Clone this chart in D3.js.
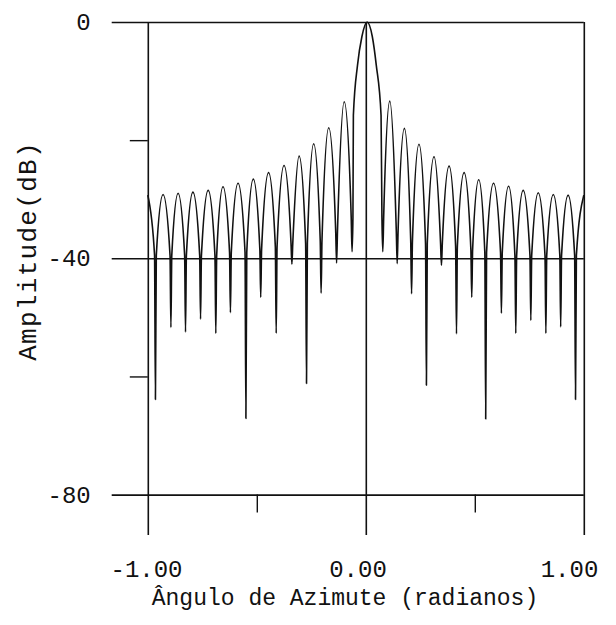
<!DOCTYPE html>
<html>
<head>
<meta charset="utf-8">
<script src="https://cdn.jsdelivr.net/npm/d3@7"></script>
<style>
  html, body { margin: 0; padding: 0; background: #fff; }
  svg { display: block; }
  text { font-family: "Liberation Mono", "DejaVu Sans Mono", monospace; fill: #111; }
</style>
</head>
<body>
<svg id="chart" width="616" height="625"></svg>
<script>
// ---- data ----
// lobe tops (sidelobe peaks, array edges and main-lobe shoulders): angle (rad) and level (dB)
const lobeAngles = [-1.000, -0.930, -0.861, -0.793, -0.723, -0.655, -0.586, -0.516, -0.446, -0.375,
  -0.306, -0.239, -0.170, -0.099,
  -0.057, -0.038, -0.018, 0.006, 0.030, 0.048, 0.070,
  0.110, 0.177, 0.244, 0.313, 0.382, 0.451, 0.518, 0.586, 0.655, 0.722, 0.791, 0.860, 0.928, 1.000];
const lobeLevels = [-29.3, -29.2, -29.0, -28.8, -28.5, -27.9, -27.3, -26.6, -25.5, -24.3,
  -22.7, -20.6, -17.9, -13.5,
  -15.8, -7.3, -2.5, 0.0, -2.5, -7.3, -15.8,
  -13.4, -18.0, -20.7, -22.8, -24.4, -25.5, -26.7, -27.3, -27.8, -28.5, -28.9, -29.2, -29.3, -29.3];
// pattern nulls: angle, depth of the spike, and level where the notch narrows to a spike
const nullAngles = [-0.965, -0.894, -0.827, -0.758, -0.688, -0.621, -0.550, -0.482, -0.411, -0.339,
  -0.272, -0.205, -0.134, -0.063,
  0.078, 0.144, 0.210, 0.278, 0.347, 0.416, 0.486, 0.550, 0.622, 0.688, 0.757, 0.826, 0.894, 0.962];
const nullDepths = [-63.9, -51.7, -52.5, -50.3, -52.7, -49.2, -67.1, -46.6, -52.7, -41.0,
  -61.2, -45.9, -40.8, -38.9,
  -38.9, -40.9, -46.0, -61.5, -41.2, -52.8, -46.6, -67.2, -49.3, -52.7, -50.5, -52.7, -51.6, -63.9];
const kneeLevels = [-39.5, -39.5, -39.5, -39.5, -39.5, -39.0, -39.0, -38.5, -38.0, -37.5,
  -37.5, -37.0, -35.5, -33.0,
  -33.0, -35.5, -37.0, -37.5, -37.5, -38.0, -38.5, -39.0, -39.0, -39.5, -39.5, -39.5, -39.5, -39.5];

// axes
const xMajorTicks = [-1, 0, 1];
const xTickLabels = ["-1.00", "0.00", "1.00"];
const xMinorTicks = [-0.5, 0.5];
const yMajorTicks = [0, -40, -80];
const yTickLabels = ["0", "-40", "-80"];
const yMinorTicks = [-20, -60];
const xTitle = "Ângulo de Azimute (radianos)";
const yTitle = "Amplitude(dB)";

// ---- drawing ----
const svg = d3.select("#chart");
const x = d3.scaleLinear().domain([-1, 1]).range([147.8, 583.8]);
const y = d3.scaleLinear().domain([0, -80]).range([22, 494.6]);
// tick labels in the reference sit on a slightly compressed spacing
const xLabelPos = d3.scaleLinear().domain([-1, 1]).range([146, 569]);

const ink = "#111";
const font = 24;

// horizontal major lines + labels (axis anchored on the right edge, ticks run left)
const yAxis = d3.axisLeft(y).tickValues(yMajorTicks)
  .tickSize(x(1) - 111.7).tickPadding(21)
  .tickFormat((d, i) => yTickLabels[i]);
const gy = svg.append("g").attr("transform", `translate(${x(1)},0)`).call(yAxis);
gy.select(".domain").remove();
gy.selectAll("line").attr("stroke", ink).attr("stroke-width", 1.6);
gy.selectAll("text").attr("font-size", font).attr("font-family", "Liberation Mono").attr("fill", ink);

// vertical major lines + labels (axis anchored at the top, ticks run down)
const xAxis = d3.axisBottom(x).tickValues(xMajorTicks)
  .tickSize(535 - y(0)).tickPadding(25)
  .tickFormat((d, i) => xTickLabels[i]);
const gx = svg.append("g").attr("transform", `translate(0,${y(0)})`).call(xAxis);
gx.select(".domain").remove();
gx.selectAll("line").attr("stroke", ink).attr("stroke-width", 1.6);
gx.selectAll("text").attr("font-size", font).attr("font-family", "Liberation Mono").attr("fill", ink)
  .attr("x", d => xLabelPos(d) - x(d));

// minor ticks
const gxm = svg.append("g").attr("transform", `translate(0,${y(-80)})`)
  .call(d3.axisBottom(x).tickValues(xMinorTicks).tickSize(18).tickFormat(""));
gxm.select(".domain").remove();
gxm.selectAll("line").attr("stroke", ink).attr("stroke-width", 1.4);
const gym = svg.append("g").attr("transform", `translate(${x(-1)},0)`)
  .call(d3.axisLeft(y).tickValues(yMinorTicks).tickSize(18).tickFormat(""));
gym.select(".domain").remove();
gym.selectAll("line").attr("stroke", ink).attr("stroke-width", 1.4);

// pattern curve: lobe tops, notch knees and null spikes in angular order
const knee = 0.004;
const pts = [];
lobeAngles.forEach((a, i) => pts.push([a, lobeLevels[i]]));
nullAngles.forEach((a, i) => {
  pts.push([a - knee, kneeLevels[i]]);
  pts.push([a, nullDepths[i]]);
  pts.push([a + knee, kneeLevels[i]]);
});
pts.sort((p, q) => p[0] - q[0]);

const line = d3.line()
  .x(d => x(d[0]))
  .y(d => y(d[1]))
  .curve(d3.curveMonotoneX);

svg.append("path")
  .datum(pts)
  .attr("d", line)
  .attr("fill", "none")
  .attr("stroke", ink)
  .attr("stroke-width", 1.6)
  .attr("stroke-linejoin", "round");

// titles
svg.append("text")
  .attr("x", 345).attr("y", 605)
  .attr("text-anchor", "middle")
  .attr("font-size", 23)
  .text(xTitle);

svg.append("text")
  .attr("transform", "translate(36,251) rotate(-90)")
  .attr("text-anchor", "middle")
  .attr("font-size", 26)
  .attr("letter-spacing", 1.3)
  .text(yTitle);
</script>
</body>
</html>
